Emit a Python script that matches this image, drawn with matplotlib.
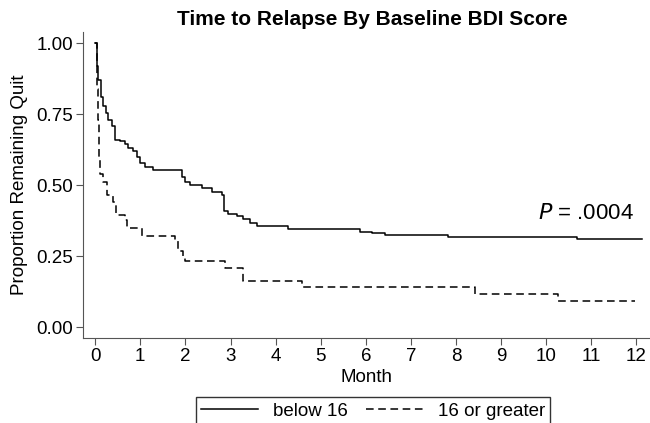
import matplotlib.pyplot as plt

plt.rcParams['font.family'] = ['Liberation Sans', 'DejaVu Sans']

# Kaplan-Meier estimates (months, proportion)
t_low = [0.0, 0.01, 0.04, 0.07, 0.13, 0.18, 0.24, 0.29, 0.38, 0.44, 0.55, 0.67, 0.73,
         0.84, 0.93, 1.00, 1.11, 1.29, 1.93, 2.00, 2.11, 2.37, 2.59, 2.82, 2.86, 2.95,
         3.15, 3.28, 3.44, 3.59, 4.28, 5.88, 6.14, 6.43, 7.83, 10.69, 12.13]
s_low = [1.00, 1.00, 0.92, 0.87, 0.81, 0.78, 0.755, 0.73, 0.71, 0.66, 0.655, 0.645, 0.63,
         0.62, 0.60, 0.58, 0.565, 0.555, 0.53, 0.51, 0.50, 0.49, 0.477, 0.466, 0.41, 0.40,
         0.39, 0.38, 0.367, 0.357, 0.346, 0.336, 0.332, 0.325, 0.318, 0.312, 0.312]

t_high = [0.0, 0.01, 0.04, 0.07, 0.09, 0.11, 0.18, 0.27, 0.40, 0.47, 0.67, 0.71, 1.04,
          1.77, 1.84, 1.95, 2.00, 2.88, 3.28, 4.59, 8.43, 10.27, 11.97]
s_high = [1.00, 1.00, 0.84, 0.73, 0.60, 0.54, 0.51, 0.467, 0.44, 0.396, 0.378, 0.35, 0.32,
          0.307, 0.27, 0.247, 0.233, 0.21, 0.163, 0.14, 0.117, 0.092, 0.092]

yticks = [0.00, 0.25, 0.50, 0.75, 1.00]
xticks = list(range(13))

fig = plt.figure(figsize=(6.5, 4.23), dpi=100)
ax = fig.add_axes([0.1277, 0.201, 0.8723, 0.7234])

ax.step(t_low, s_low, where='post', color='black', lw=1.1, label='below 16')
ax.step(t_high, s_high, where='post', color='black', lw=1.1, linestyle=(0, (5, 3)),
        label='16 or greater')

ax.set_xlim(-0.27, 12.3)
ax.set_ylim(-0.038, 1.04)
ax.set_xticks(xticks)
ax.set_yticks(yticks)
ax.set_yticklabels([f"{v:.2f}" for v in yticks])
ax.tick_params(labelsize=13.5, length=5, color='#555555', direction='out', pad=2)
for side in ['top', 'right']:
    ax.spines[side].set_visible(False)
for side in ['left', 'bottom']:
    ax.spines[side].set_color('#555555')

ax.set_xlabel("Month", fontsize=13.5, labelpad=3)
ax.set_ylabel("Proportion Remaining Quit", fontsize=13.5, labelpad=6)
ax.set_title("Time to Relapse By Baseline BDI Score", fontsize=15, fontweight='bold',
             pad=5, x=0.51)
ax.text(11.95, 0.38, "$\\it{P}$ = .0004", fontsize=16, ha='right', va='baseline')

fig.legend(loc='upper center', bbox_to_anchor=(0.574, 0.062), ncol=2, fontsize=13.5,
           frameon=True, fancybox=False, edgecolor='black', handlelength=3.0,
           borderaxespad=0, columnspacing=1.0, handletextpad=0.8, borderpad=0.3)

fig.savefig("out.png", dpi=100)
